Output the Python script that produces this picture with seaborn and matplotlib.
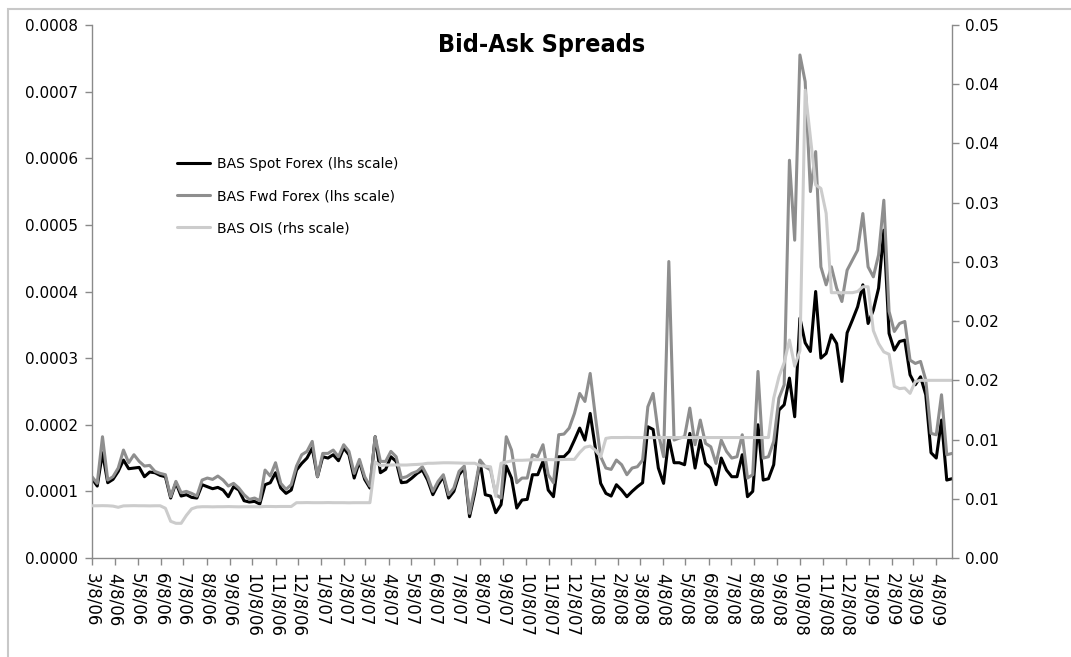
import numpy as np
import pandas as pd
import matplotlib
matplotlib.use('Agg')
import matplotlib.pyplot as plt
import matplotlib.dates as mdates
from matplotlib.ticker import FuncFormatter
from matplotlib.patches import Rectangle
import seaborn as sns

# weekly observations, first week 8 March 2006
start_date = '2006-03-08'
n_weeks = 165

# BAS spot forex, lhs, in units of 1e-4
spot_bas = [
    1.19, 1.08, 1.58, 1.13, 1.18, 1.30, 1.47, 1.34, 1.35, 1.36,
    1.22, 1.29, 1.28, 1.24, 1.22, 0.90, 1.13, 0.93, 0.95, 0.91,
    0.90, 1.10, 1.07, 1.04, 1.06, 1.02, 0.92, 1.07, 1.02, 0.86,
    0.84, 0.85, 0.81, 1.10, 1.13, 1.28, 1.05, 0.97, 1.02, 1.32,
    1.42, 1.50, 1.65, 1.22, 1.52, 1.50, 1.55, 1.46, 1.65, 1.55,
    1.20, 1.45, 1.18, 1.05, 1.82, 1.28, 1.33, 1.52, 1.45, 1.13,
    1.14, 1.20, 1.27, 1.32, 1.17, 0.95, 1.10, 1.22, 0.90, 1.00,
    1.25, 1.35, 0.62, 0.98, 1.45, 0.95, 0.93, 0.68, 0.80, 1.38,
    1.20, 0.75, 0.87, 0.88, 1.25, 1.25, 1.45, 1.02, 0.92, 1.52,
    1.52, 1.60, 1.77, 1.95, 1.77, 2.17, 1.65, 1.12, 0.97, 0.93,
    1.10, 1.02, 0.92, 1.00, 1.07, 1.13, 1.97, 1.93, 1.35, 1.12,
    1.80, 1.43, 1.43, 1.40, 1.87, 1.35, 1.77, 1.42, 1.35, 1.10,
    1.50, 1.32, 1.22, 1.22, 1.55, 0.92, 1.00, 2.00, 1.17, 1.19,
    1.40, 2.22, 2.30, 2.70, 2.12, 3.60, 3.23, 3.10, 4.00, 3.00,
    3.07, 3.35, 3.22, 2.65, 3.38, 3.57, 3.77, 4.10, 3.52, 3.72,
    4.05, 4.92, 3.37, 3.12, 3.25, 3.27, 2.75, 2.60, 2.72, 2.45,
    1.58, 1.50, 2.07, 1.17, 1.19,
]

# BAS forward forex, lhs, in units of 1e-4
fwd_bas = [
    1.22, 1.12, 1.82, 1.17, 1.22, 1.35, 1.62, 1.43, 1.55, 1.45,
    1.38, 1.39, 1.30, 1.27, 1.25, 0.92, 1.15, 0.98, 1.00, 0.97,
    0.93, 1.17, 1.20, 1.18, 1.23, 1.17, 1.08, 1.12, 1.05, 0.95,
    0.88, 0.90, 0.86, 1.32, 1.23, 1.43, 1.12, 1.03, 1.10, 1.38,
    1.55, 1.60, 1.75, 1.22, 1.57, 1.57, 1.62, 1.52, 1.70, 1.60,
    1.27, 1.48, 1.22, 1.08, 1.82, 1.45, 1.45, 1.60, 1.52, 1.20,
    1.22, 1.27, 1.30, 1.37, 1.22, 1.00, 1.15, 1.25, 0.95, 1.05,
    1.30, 1.38, 0.67, 1.05, 1.47, 1.37, 1.32, 0.95, 0.90, 1.82,
    1.62, 1.13, 1.20, 1.20, 1.55, 1.52, 1.70, 1.25, 1.13, 1.85,
    1.86, 1.95, 2.17, 2.47, 2.35, 2.77, 2.12, 1.52, 1.35, 1.33,
    1.47, 1.40, 1.25, 1.35, 1.37, 1.47, 2.27, 2.47, 1.87, 1.52,
    4.45, 1.77, 1.80, 1.82, 2.25, 1.70, 2.07, 1.72, 1.67, 1.42,
    1.77, 1.60, 1.50, 1.52, 1.85, 1.20, 1.25, 2.80, 1.50, 1.52,
    1.75, 2.40, 2.60, 5.97, 4.77, 7.55, 7.15, 5.50, 6.10, 4.37,
    4.10, 4.37, 4.05, 3.85, 4.32, 4.47, 4.62, 5.17, 4.37, 4.22,
    4.55, 5.37, 3.70, 3.40, 3.52, 3.55, 2.97, 2.92, 2.95, 2.67,
    1.87, 1.85, 2.45, 1.55, 1.57,
]

# BAS OIS, rhs, in units of 1e-3
ois_bas = [
    4.41, 4.41, 4.42, 4.41, 4.38, 4.28, 4.40, 4.41, 4.42, 4.41,
    4.41, 4.40, 4.41, 4.41, 4.20, 3.10, 2.93, 2.93, 3.60, 4.15,
    4.30, 4.33, 4.33, 4.32, 4.33, 4.33, 4.34, 4.33, 4.32, 4.33,
    4.33, 4.33, 4.32, 4.35, 4.35, 4.34, 4.35, 4.35, 4.35, 4.67,
    4.67, 4.68, 4.67, 4.67, 4.67, 4.68, 4.67, 4.67, 4.67, 4.66,
    4.67, 4.67, 4.67, 4.67, 8.10, 7.80, 7.85, 7.85, 7.86, 7.85,
    7.85, 7.88, 7.90, 7.93, 8.00, 8.00, 8.02, 8.04, 8.04, 8.03,
    8.02, 8.00, 8.00, 8.00, 7.80, 7.75, 7.70, 5.20, 8.00, 8.10,
    8.20, 8.25, 8.25, 8.27, 8.30, 8.30, 8.30, 8.31, 8.30, 8.30,
    8.32, 8.33, 8.33, 8.90, 9.35, 9.45, 9.10, 8.55, 10.10, 10.17,
    10.17, 10.17, 10.18, 10.17, 10.17, 10.17, 10.17, 10.16, 10.17, 10.17,
    10.17, 10.17, 10.17, 10.18, 10.17, 10.17, 10.17, 10.17, 10.17, 10.17,
    10.17, 10.17, 10.17, 10.17, 10.17, 10.17, 10.17, 10.17, 10.17, 10.17,
    13.50, 15.30, 16.50, 18.40, 16.20, 17.50, 39.50, 35.50, 31.50, 31.20,
    29.10, 22.40, 22.40, 22.40, 22.40, 22.40, 22.50, 22.90, 22.90, 19.20,
    18.10, 17.40, 17.20, 14.50, 14.30, 14.35, 13.90, 14.90, 15.00, 15.00,
    15.00, 15.00, 15.00, 15.00, 15.00,
]

series_labels = ['BAS Spot Forex (lhs scale)', 'BAS Fwd Forex (lhs scale)', 'BAS OIS (rhs scale)']

left_ticks = [0.0, 0.0001, 0.0002, 0.0003, 0.0004, 0.0005, 0.0006, 0.0007, 0.0008]
left_labels = ['0.0000', '0.0001', '0.0002', '0.0003', '0.0004', '0.0005', '0.0006', '0.0007', '0.0008']
right_ticks = [0.0, 0.005, 0.01, 0.015, 0.02, 0.025, 0.03, 0.035, 0.04, 0.045]
right_labels = ['0.00', '0.01', '0.01', '0.02', '0.02', '0.03', '0.03', '0.04', '0.04', '0.05']

dates = pd.date_range(start_date, periods=n_weeks, freq='7D')
df = pd.DataFrame({
    'date': dates,
    'spot': np.array(spot_bas) * 1e-4,
    'fwd': np.array(fwd_bas) * 1e-4,
    'ois': np.array(ois_bas) * 1e-3,
})

sns.set_theme(style='ticks')
plt.rcParams['font.family'] = ['DejaVu Sans']
plt.rcParams['text.color'] = 'black'

W, H = 1071, 657
fig = plt.figure(figsize=(W / 100, H / 100), dpi=100)
fig.patch.set_facecolor('white')
ax = fig.add_axes([92 / W, 1 - 558 / H, (952 - 92) / W, (558 - 25) / H])
ax2 = ax.twinx()

sns.lineplot(data=df, x='date', y='spot', ax=ax, color='black', linewidth=2.2, label=series_labels[0])
sns.lineplot(data=df, x='date', y='fwd', ax=ax, color='#8e8e8e', linewidth=2.2, label=series_labels[1])
sns.lineplot(data=df, x='date', y='ois', ax=ax2, color='#cccccc', linewidth=2.2, label=series_labels[2])

ax.set_xlim(dates[0], dates[-1])
ax.set_ylim(0, 0.0008)
ax2.set_ylim(0, 0.045)
ax.set_yticks(left_ticks)
ax.set_yticklabels(left_labels)
ax2.set_yticks(right_ticks)
ax2.set_yticklabels(right_labels)

ax.xaxis.set_major_locator(mdates.MonthLocator(bymonthday=8))
ax.xaxis.set_major_formatter(FuncFormatter(
    lambda v, pos: '{d.month}/{d.day}/{y}'.format(d=mdates.num2date(v), y=mdates.num2date(v).strftime('%y'))))

ax.set_xlabel('')
ax.set_ylabel('')
ax2.set_ylabel('')

spine_col = '#8a8a8a'
for a in (ax, ax2):
    for s in a.spines.values():
        s.set_color(spine_col)
        s.set_linewidth(1.0)
    a.spines['top'].set_visible(False)
ax.spines['right'].set_visible(False)
ax2.spines['left'].set_visible(False)
ax2.spines['bottom'].set_visible(False)

ax.tick_params(axis='y', length=5, width=1, color=spine_col, labelsize=11, pad=5, labelcolor='black')
ax.tick_params(axis='x', length=5, width=1, color=spine_col, labelsize=12, pad=6, labelcolor='black',
               labelrotation=-90)
ax2.tick_params(axis='y', length=5, width=1, color=spine_col, labelsize=11, pad=4, labelcolor='black')

# one legend for both axes
h1, l1 = ax.get_legend_handles_labels()
h2, l2 = ax2.get_legend_handles_labels()
ax.get_legend().remove()
ax2.get_legend().remove()
leg = ax2.legend(h1 + h2, l1 + l2, loc='upper left', bbox_to_anchor=(177 / W, 1 - 157 / H),
                 bbox_transform=fig.transFigure, frameon=False, fontsize=10, borderpad=0,
                 handlelength=2.4, handletextpad=0.45, labelspacing=1.3, borderaxespad=0)
for t in leg.get_texts():
    t.set_color('black')

fig.text(542 / W, 1 - 45 / H, 'Bid-Ask Spreads', ha='center', va='center', fontsize=18,
         fontweight='bold', fontstretch='condensed', color='black')

# chart frame, cut off on the right and bottom
fig.patches.append(Rectangle((8 / W, -0.1), 1.2, 1 - 9 / H + 0.1, transform=fig.transFigure,
                             fill=False, edgecolor='#c8c8c8', linewidth=1.5))

fig.savefig('out.png', dpi=100, facecolor='white')
